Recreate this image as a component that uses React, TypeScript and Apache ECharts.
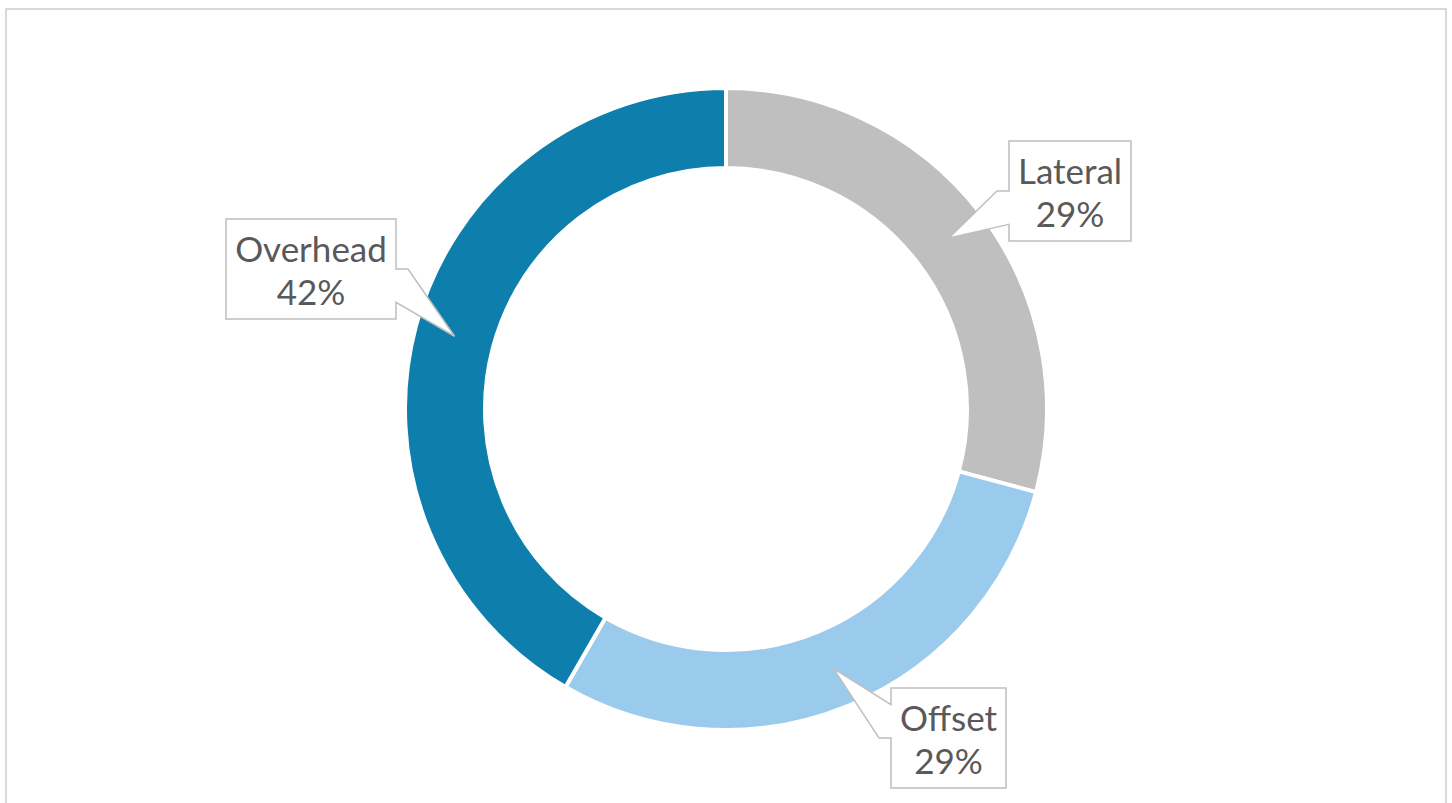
import React, { useEffect, useRef } from "react";
import * as echarts from "echarts";

// ---- data ----
const categories = ["Lateral", "Offset", "Overhead"];
const values = [7, 7, 10];

// ---- styles / layout ----
const sliceColors = ["#BFBFBF", "#9BCBEC", "#0E7EAC"];
const W = 1452;
const H = 803;
const CX = 726;
const CY = 409;
const R_OUT = 321;
const R_IN = 241;
const FONT_FAMILY = "Lato";
const FONT_SIZE = 35;
const LINE_H = 43;
const PAD_X = 9;
const BOX_H = 100;
// label box anchor (relative to pie centre): x of the attached edge side, top y
const labelLayout = [
  { dx: 283, dy: -268, side: "left" },
  { dx: 165, dy: 279, side: "left" },
  { dx: -330, dy: -190, side: "right" },
];

function measure(text: string): number {
  const c = document.createElement("canvas");
  const ctx = c.getContext("2d")!;
  ctx.font = `${FONT_SIZE}px ${FONT_FAMILY}`;
  return ctx.measureText(text).width;
}

export default function App() {
  const ref = useRef<HTMLDivElement>(null);
  useEffect(() => {
    if (!ref.current) return;
    const chart = echarts.init(ref.current, undefined, { renderer: "svg" });
    const total = values.reduce((a, b) => a + b, 0);
    const rMid = (R_OUT + R_IN) / 2;
    const graphics: any[] = [
      {
        type: "rect",
        shape: { x: 6, y: 9, width: 1440, height: 830 },
        style: { fill: "none", stroke: "#D9D9D9", lineWidth: 2 },
        z: 1,
      },
    ];
    let cum = 0;
    values.forEach((v, i) => {
      const start = 90 - (360 * cum) / total;
      const mid = start - (180 * v) / total;
      cum += v;
      const rad = (mid * Math.PI) / 180;
      const tip = [CX + rMid * Math.cos(rad), CY - rMid * Math.sin(rad)];
      const pct = Math.round((v / total) * 100) + "%";
      const lines = [categories[i], pct];
      const tw = Math.max(...lines.map(measure));
      const bw = Math.round(tw + 2 * PAD_X);
      const lay = labelLayout[i];
      const top = CY + lay.dy;
      const bottom = top + BOX_H;
      let left: number, right: number;
      if (lay.side === "left") {
        left = CX + lay.dx;
        right = left + bw;
      } else {
        right = CX + lay.dx;
        left = right - bw;
      }
      const midY = (top + bottom) / 2;
      const base = BOX_H / 3;
      const below = tip[1] > midY;
      const yOther = below ? midY + base : midY - base;
      const edgeX = lay.side === "left" ? left : right;
      const outX = lay.side === "left" ? edgeX - 12 : edgeX + 12;
      let pts: number[][];
      if (lay.side === "left") {
        if (below) {
          pts = [
            [left, top], [right, top], [right, bottom], [left, bottom],
            [left, yOther], tip, [outX, midY], [left, midY],
          ];
        } else {
          pts = [
            [left, top], [right, top], [right, bottom], [left, bottom],
            [left, midY], [outX, midY], tip, [left, yOther],
          ];
        }
      } else {
        if (below) {
          pts = [
            [left, top], [right, top], [right, midY], [outX, midY], tip,
            [right, yOther], [right, bottom], [left, bottom],
          ];
        } else {
          pts = [
            [left, top], [right, top], [right, yOther], tip, [outX, midY],
            [right, midY], [right, bottom], [left, bottom],
          ];
        }
      }
      graphics.push({
        type: "polygon",
        shape: { points: pts },
        style: { fill: "#FFFFFF", stroke: "#BFBFBF", lineWidth: 1.5 },
        z: 10,
      });
      graphics.push({
        type: "text",
        x: (left + right) / 2,
        y: midY,
        style: {
          text: lines.join("\n"),
          fill: "#595959",
          fontSize: FONT_SIZE,
          fontFamily: FONT_FAMILY,
          lineHeight: LINE_H,
          align: "center",
          verticalAlign: "middle",
        },
        z: 11,
      });
    });

    chart.setOption({
      animation: false,
      backgroundColor: "#FFFFFF",
      series: [
        {
          type: "pie",
          center: [CX, CY],
          radius: [R_IN, R_OUT],
          startAngle: 90,
          clockwise: true,
          silent: true,
          label: { show: false },
          labelLine: { show: false },
          itemStyle: { borderColor: "#FFFFFF", borderWidth: 4 },
          data: categories.map((c, i) => ({
            name: c,
            value: values[i],
            itemStyle: { color: sliceColors[i] },
          })),
        },
      ],
      graphic: graphics,
    });
    return () => chart.dispose();
  }, []);
  return (
    <div
      ref={ref}
      style={{ position: "absolute", left: 0, top: 0, width: W, height: H }}
    />
  );
}
